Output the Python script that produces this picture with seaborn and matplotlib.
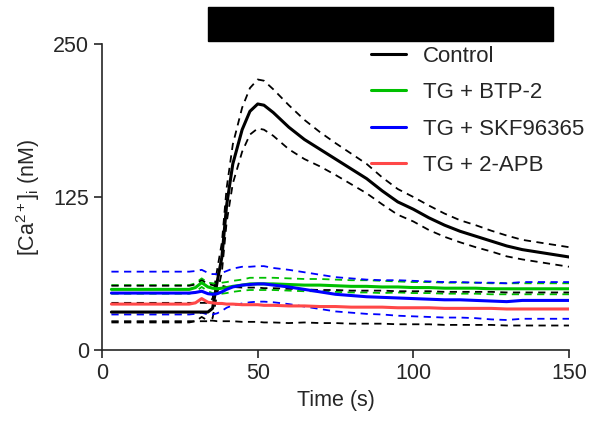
import numpy as np
import pandas as pd
import matplotlib
matplotlib.use('Agg')
import matplotlib.pyplot as plt
import seaborn as sns

# time points (s)
time = [3, 10, 20, 28, 30, 32, 34, 35.5, 37, 38.5, 40, 42, 45, 47.5, 50, 52, 55,
        60, 65, 70, 75, 80, 85, 90, 95, 100, 105, 110, 115, 120, 125, 130, 135,
        140, 145, 150]

# mean [Ca2+]i (nM) for each group
control = [31, 31, 31, 31, 31, 31, 31, 34, 56, 76, 118, 152, 180, 195, 201, 200, 194,
           182, 172, 164, 156, 148, 140, 130, 121, 115, 108, 102, 97, 93, 89, 85, 82,
           80, 78, 76]
btp2 = [49.5, 49.5, 49.5, 49.5, 51, 55, 51.5, 50.5, 50, 50.5, 51, 52, 53, 54, 54, 54, 54,
        53.5, 53, 53, 52.5, 52, 52, 51.5, 51.5, 51, 51, 50.5, 50.5, 50.5, 50, 50, 50,
        50, 50, 50]
skf = [46.5, 46.5, 46.5, 46.5, 47, 48, 46, 45.5, 46, 47.5, 49.5, 51.5, 53, 53.5, 54, 54, 53,
       51.5, 49.5, 47.5, 45.5, 44.5, 43.5, 43, 42.5, 42, 41.5, 41, 41, 40.5, 40, 39.5, 40.5,
       40.5, 40.5, 40.5]
apb = [37.5, 37.5, 37.5, 37.5, 38.5, 42, 39, 38.5, 38, 38, 37.5, 37.5, 37, 37, 37, 36.5, 36.5,
       36, 36, 35.5, 35.5, 35, 35, 35, 34.5, 34.5, 34.5, 34, 34, 34, 34, 33.5, 33.5,
       33.5, 33.5, 33.5]

# SEM for each group
control_sem = [7.5, 7.5, 7.5, 7.5, 7.5, 7.5, 7.5, 8, 10, 12, 14, 16, 18, 19, 20, 20, 19,
               18, 16, 14, 13, 12.5, 12, 11, 10.5, 10, 10, 9.5, 9, 9, 8.5, 8.5, 8,
               8, 8, 8]
btp2_sem = [3.5, 3.5, 3.5, 3.5, 3.5, 3.5, 3.5, 4, 4, 4.5, 4.5, 4.5, 4.5, 5, 5, 5, 5,
            5, 5, 5, 5, 5, 5, 5, 4.5, 4.5, 4.5, 4.5, 4.5, 4.5, 4.5, 4.5, 4.5,
            4.5, 4.5, 4.5]
skf_sem = [17.5, 17.5, 17.5, 17.5, 17.5, 17.5, 17, 16.5, 16, 15.5, 15, 15, 15, 14.5, 14.5, 14.5, 14,
           14, 14, 14, 14, 14, 14, 14, 14.5, 14.5, 14.5, 14.5, 14.5, 14.5, 15, 15, 15,
           15, 15, 15]
apb_sem = [15, 15, 15, 15, 15, 15, 15, 14.5, 14.5, 14.5, 14, 14, 14, 14, 14, 14, 14,
           14, 13.5, 13.5, 13.5, 13.5, 13.5, 13.5, 13.5, 13.5, 13.5, 13.5, 13.5, 13.5, 13.5, 13.5, 13.5,
           13.5, 13.5, 13.5]

labels = ['Control', 'TG + BTP-2', 'TG + SKF96365', 'TG + 2-APB']
line_colors = ['black', '#00C000', '#0000FF', '#FF4848']
sem_colors = ['black', '#00C000', '#0000FF', 'black']

# TG / treatment bar on top of the plot (s)
treatment_window = [34, 145]

sns.set_style('ticks')
plt.rcParams['font.family'] = ['Liberation Sans', 'DejaVu Sans']
plt.rcParams['mathtext.fontset'] = 'custom'
plt.rcParams['mathtext.rm'] = 'Liberation Sans'
plt.rcParams['mathtext.it'] = 'Liberation Sans'

fig = plt.figure(figsize=(6.04, 4.23), dpi=100)
ax = fig.add_axes([0.169, 0.1726, 0.773, 0.7234])

means = [control, btp2, skf, apb]
sems = [control_sem, btp2_sem, skf_sem, apb_sem]

t = np.array(time)
for m, s, c in zip(means, sems, sem_colors):
    m = np.array(m)
    s = np.array(s)
    for bound in (m + s, m - s):
        sns.lineplot(x=t, y=bound, color=c, lw=1.3, dashes=False, ax=ax,
                     linestyle=(0, (4, 3)))

for m, c, lab in zip(means, line_colors, labels):
    sns.lineplot(x=t, y=np.array(m), color=c, lw=2.2, ax=ax, label=lab)

ax.axvspan(treatment_window[0], treatment_window[1], ymin=1.01, ymax=1.12,
           color='black', clip_on=False)

ax.set_xlim(0, 150)
ax.set_ylim(0, 250)
ax.set_xticks([0, 50, 100, 150])
ax.set_yticks([0, 125, 250])
ax.tick_params(labelsize=15.5, length=6, width=1.2, direction='out')
ax.set_xlabel('Time (s)', fontsize=15.5)
ax.set_ylabel(r'[Ca$^{2+}$]$_{\mathrm{i}}$ (nM)', fontsize=15.5, labelpad=8)
for sp in ['top', 'right']:
    ax.spines[sp].set_visible(False)
for sp in ['left', 'bottom']:
    ax.spines[sp].set_linewidth(1.2)

ax.legend(loc='upper left', bbox_to_anchor=(0.577, 0.995), frameon=False,
          fontsize=16, handlelength=1.55, handletextpad=0.75, labelspacing=0.7,
          borderpad=0, borderaxespad=0)

fig.savefig('out.png', dpi=100)
